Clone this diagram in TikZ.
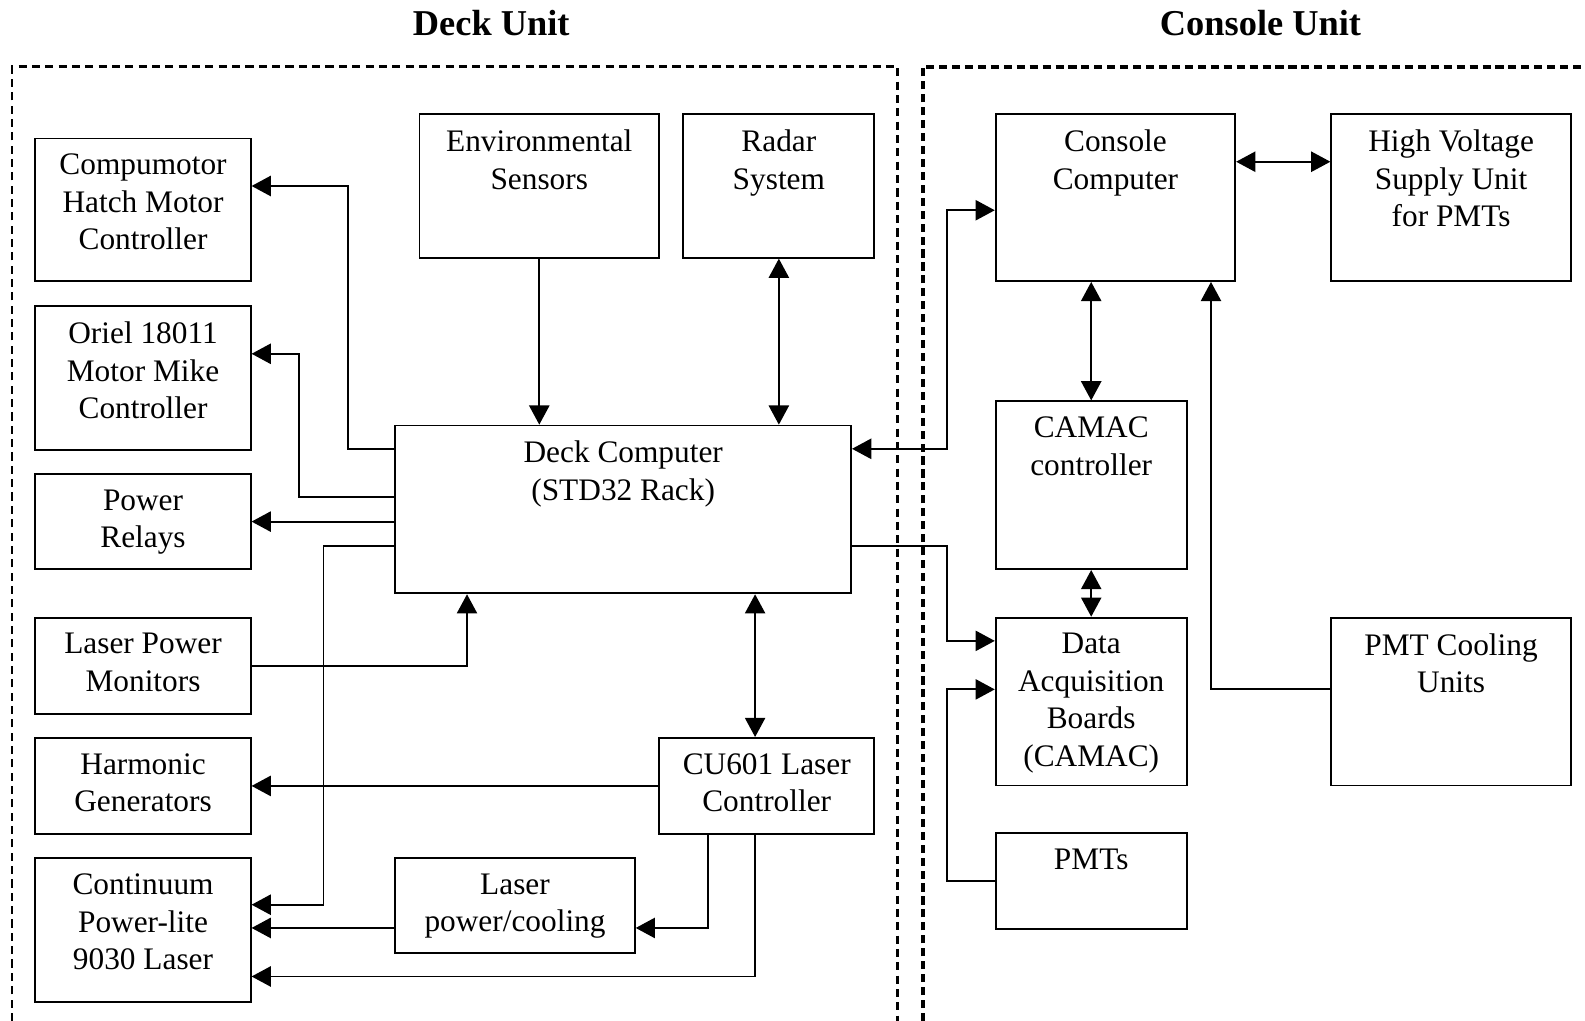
\documentclass[tikz,border=0pt]{standalone}
\usepackage{fontspec}
\setmainfont{Liberation Serif}
\usetikzlibrary{arrows.meta,fit}

\tikzset{
  blkbox/.style={draw, line width=0.9pt, inner sep=0pt},
  blktxt/.style={anchor=north, inner sep=0pt, align=center,
    font=\fontsize{15.5pt}{18.5pt}\selectfont},
  title/.style={font=\fontsize{18pt}{22pt}\selectfont\bfseries, inner sep=0pt},
  link/.style={line width=0.9pt},
  arr/.style={link, -{Triangle[length=9.5pt,width=10pt]}},
  arrs/.style={link, {Triangle[length=9.5pt,width=10pt]}-{Triangle[length=9.5pt,width=10pt]}},
  deckframe/.style={line width=1.3pt, dash pattern=on 4pt off 2.6pt},
  consframe/.style={line width=1.9pt, dash pattern=on 4pt off 2.4pt},
}

% block: name, x1, y1, x2, y2, text
\newcommand\blk[6]{%
  \node[blkbox, fit={(#2,#3)(#4,#5)}] (#1) {};
  \node[blktxt] (#1-t) at ([yshift=-8pt]#1.north) {#6};}

\begin{document}
\begin{tikzpicture}[x=0.5pt,y=-0.5pt]
\useasboundingbox (0,0) rectangle (1568,1010);

% unit frames
\draw[deckframe] (12,1010) -- (12,66) -- (888,66) -- (888,1010);
\draw[consframe] (913,1010) -- (913,66) -- (1568,66);
\node[title] (deckt) at (486,23) {Deck Unit};
\node[title] (const) at (1247,23) {Console Unit};

% deck unit blocks
\blk{cm}{35}{137}{248}{278}{Compumotor\\Hatch Motor\\Controller}
\blk{om}{35}{303}{248}{445}{Oriel 18011\\Motor Mike\\Controller}
\blk{pr}{35}{469}{248}{563}{Power\\Relays}
\blk{lpm}{35}{611}{248}{706}{Laser Power\\Monitors}
\blk{hg}{35}{730}{248}{825}{Harmonic\\Generators}
\blk{cl}{35}{849}{248}{991}{Continuum\\Power-lite\\9030 Laser}
\blk{es}{415}{113}{652}{255}{Environmental\\Sensors}
\blk{rs}{676}{113}{865}{255}{Radar\\System}
\blk{dc}{391}{421}{842}{587}{Deck Computer\\(STD32 Rack)}
\blk{cu}{652}{730}{865}{825}{CU601 Laser\\Controller}
\blk{lp}{391}{849}{628}{943}{Laser\\power/cooling}

% console unit blocks
\blk{cc}{985}{113}{1222}{278}{Console\\Computer}
\blk{hv}{1317}{113}{1554}{278}{High Voltage\\Supply Unit\\for PMTs}
\blk{cam}{985}{397}{1174}{563}{CAMAC\\controller}
\blk{da}{985}{611}{1174}{777}{Data\\Acquisition\\Boards\\(CAMAC)}
\blk{pm}{985}{824}{1174}{919}{PMTs}
\blk{pc}{1317}{611}{1554}{777}{PMT Cooling\\Units}

% deck computer outputs
\draw[arr] (dc.west |- 0,444) -| (344,184) -- (cm.east |- 0,184);
\draw[arr] (dc.west |- 0,492) -| (296,350) -- (om.east |- 0,350);
\draw[arr] (dc.west |- 0,516) -- (pr.east |- 0,516);
\draw[arr] (dc.west |- 0,540) -| (320,895) -- (cl.east |- 0,895);
\draw[arr] (lpm.east) -| (dc.south -| 462,0);
\draw[arr] (es.south) -- (es.south |- dc.north);
\draw[arrs] (rs.south) -- (rs.south |- dc.north);
\draw[arrs] (dc.south -| 747,0) -- (cu.north -| 747,0);

% laser controller
\draw[arr] (cu.west) -- (hg.east);
\draw[arr] (cu.south -| 700,0) |- (lp.east |- 0,918);
\draw[arr] (cu.south -| 747,0) |- (cl.east |- 0,966);
\draw[arr] (lp.west |- 0,918) -- (cl.east |- 0,918);

% links to the console unit
\draw[arrs] (dc.east |- 0,444) -| (937,208) -- (cc.west |- 0,208);
\draw[arr] (dc.east |- 0,540) -| (937,634) -- (da.west |- 0,634);
\draw[arrs] (cam.north |- cc.south) -- (cam.north);
\draw[arrs] (cam.south) -- (da.north);
\draw[arr] (pm.west) -| (937,682) -- (da.west |- 0,682);
\draw[arr] (pc.west |- 0,682) -| (cc.south -| 1198,0);
\draw[arrs] (cc.east |- 0,160) -- (hv.west |- 0,160);
\end{tikzpicture}
\end{document}
